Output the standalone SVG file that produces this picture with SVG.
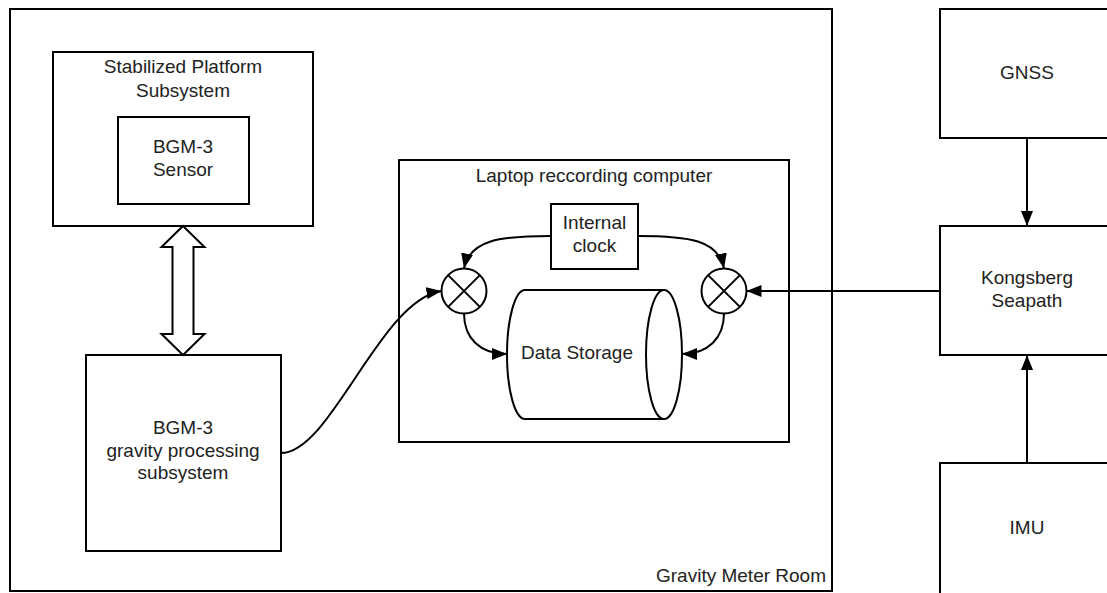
<svg xmlns="http://www.w3.org/2000/svg" width="1107" height="593" viewBox="0 0 1107 593">
<style>
.box{fill:#fff;stroke:#000;stroke-width:2}
.t{font-family:"Liberation Sans",Arial,sans-serif;font-size:19px;fill:#222;text-anchor:middle}
.c{fill:none;stroke:#000;stroke-width:2}
</style>
<defs>
<marker id="ah" viewBox="0 0 15 12" refX="15" refY="6" markerWidth="15" markerHeight="12" markerUnits="userSpaceOnUse" orient="auto">
<path d="M0,0 L15,6 L0,12 Z" fill="#000"/>
</marker>
</defs>
<rect width="1107" height="593" fill="#fff"/>
<g id="room">
<rect class="box" x="10" y="9" width="822" height="582"/>
<text class="t" x="826" y="582" style="text-anchor:end">Gravity Meter Room</text>
</g>
<g id="platform">
<rect class="box" x="53" y="52" width="260" height="174"/>
<text class="t" x="183" y="73">Stabilized Platform</text>
<text class="t" x="183" y="97">Subsystem</text>
</g>
<g id="sensor">
<rect class="box" x="118" y="117" width="131" height="87"/>
<text class="t" x="183" y="153">BGM-3</text>
<text class="t" x="183" y="176">Sensor</text>
</g>
<g id="processing">
<rect class="box" x="86" y="355" width="195" height="196"/>
<text class="t" x="183" y="434">BGM-3</text>
<text class="t" x="183" y="457">gravity processing</text>
<text class="t" x="183" y="479">subsystem</text>
</g>
<g id="laptop">
<rect class="box" x="399" y="160" width="390" height="282"/>
<text class="t" x="594" y="182">Laptop reccording computer</text>
</g>
<g id="clock">
<rect class="box" x="551" y="204" width="87" height="65"/>
<text class="t" x="594.5" y="229">Internal</text>
<text class="t" x="594.5" y="252">clock</text>
</g>
<g id="mixer-left">
<circle class="box" cx="464" cy="291" r="22.5"/>
<path class="c" d="M448.1,275.1 L479.9,306.9 M479.9,275.1 L448.1,306.9"/>
</g>
<g id="mixer-right">
<circle class="box" cx="724" cy="291" r="22.5"/>
<path class="c" d="M708.1,275.1 L739.9,306.9 M739.9,275.1 L708.1,306.9"/>
</g>
<g id="storage">
<path class="box" d="M525,290 L664,290 L664,419 L525,419 A18,64.5 0 0 1 525,290 Z"/>
<ellipse class="box" cx="664" cy="354.5" rx="18" ry="64.5"/>
<text class="t" x="577" y="359">Data Storage</text>
</g>
<g id="gnss">
<rect class="box" x="940" y="9" width="180" height="129"/>
<text class="t" x="1027" y="79">GNSS</text>
</g>
<g id="seapath">
<rect class="box" x="940" y="226" width="180" height="129"/>
<text class="t" x="1027" y="284">Kongsberg</text>
<text class="t" x="1027" y="307">Seapath</text>
</g>
<g id="imu">
<rect class="box" x="940" y="463" width="180" height="140"/>
<text class="t" x="1027" y="534">IMU</text>
</g>
<g id="connectors">
<path class="box" d="M183,226 L204.5,247 L193.5,247 L193.5,334 L204.5,334 L183,355 L161.5,334 L172.5,334 L172.5,247 L161.5,247 Z"/>
<path class="c" d="M551,236 C500,236 470,240 464,268.5" marker-end="url(#ah)"/>
<path class="c" d="M638,236 C689,236 718,240 724,268.5" marker-end="url(#ah)"/>
<path class="c" d="M464,313.5 C464,338 480,354 507,354" marker-end="url(#ah)"/>
<path class="c" d="M724,313.5 C724,338 708,354 682,354" marker-end="url(#ah)"/>
<path class="c" d="M281,453 C331,453 380,300 441.5,291" marker-end="url(#ah)"/>
<path class="c" d="M940,291 L746.5,291" marker-end="url(#ah)"/>
<path class="c" d="M1027,138 L1027,226" marker-end="url(#ah)"/>
<path class="c" d="M1027,463 L1027,355" marker-end="url(#ah)"/>
</g>
</svg>
